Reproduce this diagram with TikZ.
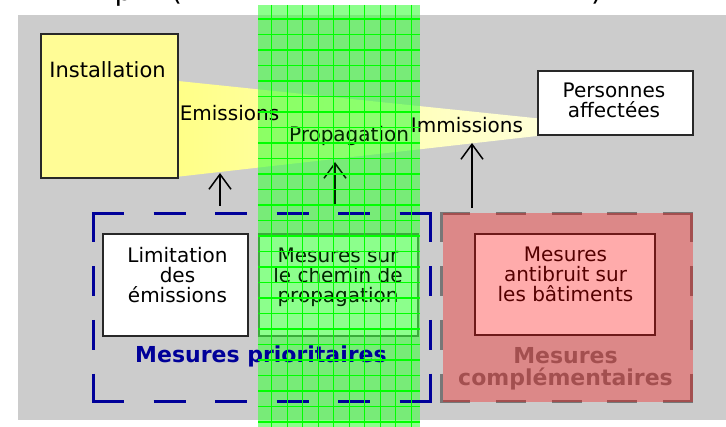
\documentclass[tikz,border=0pt]{standalone}
\usepackage{fontspec}
\setmainfont{DejaVu Sans}
\usetikzlibrary{arrows.meta}
\definecolor{bggray}{RGB}{204,204,204}
\definecolor{instyellow}{RGB}{255,252,150}
\definecolor{beamL}{RGB}{255,255,135}
\definecolor{beamR}{RGB}{255,255,215}
\definecolor{navyblue}{RGB}{0,0,153}
\definecolor{dashgray}{RGB}{119,119,119}
\definecolor{boxline}{RGB}{40,40,40}
\definecolor{brightgreen}{RGB}{0,255,0}
\begin{document}
\begin{tikzpicture}[x=1pt,y=-1pt,
  frame/.style={draw=boxline, line width=2pt, inner sep=0pt},
  lbl/.style={font=\fontsize{20}{20}\selectfont, inner sep=0pt, align=center},
  bigbold/.style={font=\bfseries\fontsize{22}{22}\selectfont, inner sep=0pt, align=center},
  uparrow/.style={-{Straight Barb[length=15pt,width=22pt]}, line width=1.5pt, black},
  titlefrag/.style={font=\fontsize{28}{28}\selectfont, inner sep=0pt, anchor=base west},
]
\useasboundingbox (0,0) rectangle (726,427);
% clipped fragments of the title above the picture
\begin{scope}
  \clip (0,0) rectangle (726,14);
  \node[titlefrag] (t1) at (114.5,0.5) {p};
  \node[titlefrag] (t2) at (171,0.5) {(};
  \node[titlefrag] (t3) at (591,0.5) {)};
\end{scope}
% background
\fill[bggray] (18,15) rectangle (726,420);
% sound beam
\shade[left color=beamL, right color=beamR] (178,81) -- (537,118.3) -- (537,136) -- (178,176.7) -- cycle;
% boxes
\node[frame, fill=instyellow, minimum width=136.6pt, minimum height=144pt] (inst) at (109.5,106.5) {};
\node[frame, fill=white, minimum width=155pt, minimum height=64.3pt] (pers) at (615,103.3) {};
\node[frame, fill=white, minimum width=145pt, minimum height=101.7pt] (lim) at (175.8,285.2) {};
\node[frame, fill=white, minimum width=159.3pt, minimum height=102.5pt] (chem) at (338.3,284.8) {};
\node[frame, fill=white, minimum width=180pt, minimum height=101.2pt] (anti) at (565.2,284.4) {};
% green overlay band (tint)
\fill[white, opacity=0.3] (258,5) rectangle (420,427);
\fill[brightgreen, opacity=0.45] (258,5) rectangle (420,427);
% texts of the top row
\node[lbl, font=\fontsize{21}{21}\selectfont, anchor=base] (insttxt) at (107.5,78) {Installation};
\node[lbl] (perstxt) at (614,100.7) {Personnes\\affectées};
\node[lbl, anchor=base] (emi) at (229.5,121) {Emissions};
\node[lbl, anchor=base, text=black!85!green] (prop) at (349,142) {Propagation};
\node[lbl, anchor=base] (imm) at (467,133) {Immissions};
% arrows
\coordinate (a1s) at (220,206); \coordinate (a1e) at (220,173);
\coordinate (a2s) at (335,206); \coordinate (a2e) at (335,162);
\coordinate (a3s) at (472,208); \coordinate (a3e) at (472,143);
\draw[uparrow] (a1s) -- (a1e);
\draw[uparrow, black!85!green] (a2s) -- (a2e);
\draw[uparrow] (a3s) -- (a3e);
% blue dashed frame (mesures prioritaires)
\draw[navyblue, line width=3pt, dash pattern=on 32pt off 29.5pt] (92,214) -- (431.5,214);
\draw[navyblue, line width=3pt, dash pattern=on 32pt off 29.5pt] (92,402) -- (431.5,402);
\draw[navyblue, line width=3pt, dash pattern=on 30pt off 23.67pt] (93.5,212.5) -- (93.5,403.5);
\draw[navyblue, line width=3pt, dash pattern=on 30pt off 23.67pt] (430,212.5) -- (430,403.5);
% gray dashed frame (mesures complementaires)
\draw[dashgray, line width=3pt, dash pattern=on 30pt off 25.75pt] (440,214) -- (693,214);
\draw[dashgray, line width=3pt, dash pattern=on 30pt off 25.75pt] (440,402) -- (693,402);
\draw[dashgray, line width=3pt, dash pattern=on 30pt off 23.67pt] (441.5,212.5) -- (441.5,403.5);
\draw[dashgray, line width=3pt, dash pattern=on 30pt off 23.67pt] (691.5,212.5) -- (691.5,403.5);
% texts of the measures
\node[lbl] (limtxt) at (177.5,275.4) {Limitation\\des\\émissions};
\node[lbl, text=black!85!green] (chemtxt) at (338,277) {Mesures sur\\le chemin de\\propagation};
\node[lbl] (antitxt) at (565.5,274.7) {Mesures\\antibruit sur\\les bâtiments};
\node[bigbold, text=navyblue, anchor=base] (prio) at (261,363) {Mesures prioritaires};
\node[bigbold, text=dashgray] (compl) at (565.5,368.6) {Mesures\\complémentaires};
% red overlay
\fill[red, opacity=0.33] (443,213) rectangle (693,402);
% green grid of the band
\foreach \gx in {271.7,287.2,...,418} \draw[brightgreen, line width=1.2pt] (\gx,5) -- (\gx,427);
\foreach \gy in {19,34.5,...,426} \draw[brightgreen, line width=1.2pt] (258,\gy) -- (420,\gy);
\end{tikzpicture}
\end{document}
